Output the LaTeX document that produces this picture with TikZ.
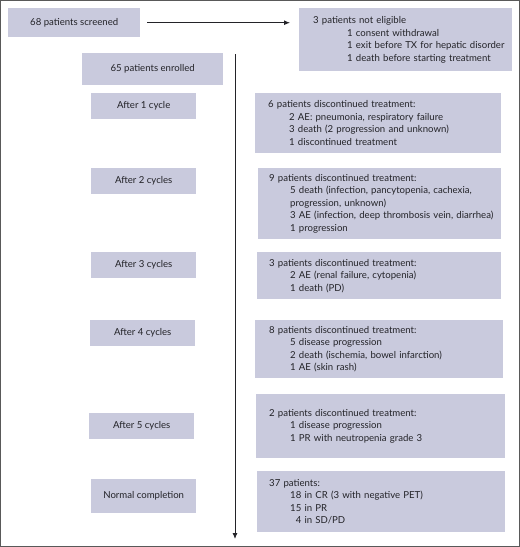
\documentclass[tikz,border=0pt]{standalone}
\usepackage{fontspec}
\setmainfont{Lato}
\usetikzlibrary{arrows.meta}
\definecolor{boxfill}{RGB}{201,202,221}
\definecolor{ink}{RGB}{35,35,40}
\tikzset{
  lbox/.style={fill=boxfill, draw=none, minimum height=26pt, minimum width=105pt, inner sep=0pt, text=ink, font=\fontsize{9.6}{12.5}\selectfont, anchor=north west},
  rbox/.style={fill=boxfill, draw=none, inner xsep=12pt, inner ysep=0pt, align=left, text=ink, font=\fontsize{9.6}{12.5}\selectfont, anchor=north west},
  flow/.style={draw=ink, line width=0.9pt, -{Latex[length=6pt,width=5pt]}}
}
\begin{document}
\begin{tikzpicture}[x=1pt,y=-1pt]
\useasboundingbox (0,0) rectangle (520,547);
\draw[gray!70!black, line width=1.2pt] (0.6,0.6) rectangle (519.4,546.4);

\node[lbox, minimum width=132pt, minimum height=29pt] (scr) at (8,8) {68 patients screened};
\node[rbox, minimum width=213pt, minimum height=63pt, text width=209pt, inner xsep=2pt] (ne) at (299,8)
  {\hspace*{12pt}3 patients not eligible\\
   \hspace*{46pt}1 consent withdrawal\\
   \hspace*{46pt}1 exit before TX for hepatic disorder\\
   \hspace*{46pt}1 death before starting treatment};
\draw[flow, shorten <=7pt, shorten >=9pt] (scr.east) -- (ne.west |- scr.east);

\node[lbox, minimum width=141pt, minimum height=32pt] (enr) at (82,53) {65 patients enrolled};

\node[lbox] (c1) at (91,93) {After 1 cycle};
\node[rbox, minimum width=246pt, minimum height=60pt, text width=230pt, inner xsep=8pt] (d1) at (255,93)
  {\hspace*{5pt}6 patients discontinued treatment:\\
   \hspace*{26pt}2 AE: pneumonia, respiratory failure\\
   \hspace*{26pt}3 death (2 progression and unknown)\\
   \hspace*{26pt}1 discontinued treatment};

\node[lbox] (c2) at (91,168) {After 2 cycles};
\node[rbox, minimum width=243pt, minimum height=71pt, text width=231pt, inner xsep=6pt] (d2) at (258,168)
  {\hspace*{5pt}9 patients discontinued treatment:\\
   \hspace*{26pt}5 death (infection, pancytopenia, cachexia,\\
   \hspace*{26pt}progression, unknown)\\
   \hspace*{26pt}3 AE (infection, deep thrombosis vein, diarrhea)\\
   \hspace*{26pt}1 progression};

\node[lbox] (c3) at (91,252) {After 3 cycles};
\node[rbox, minimum width=244pt, minimum height=47pt, text width=230pt, inner xsep=7pt] (d3) at (257,252)
  {\hspace*{5pt}3 patients discontinued treatment:\\
   \hspace*{26pt}2 AE (renal failure, cytopenia)\\
   \hspace*{26pt}1 death (PD)};

\node[lbox] (c4) at (90,320) {After 4 cycles};
\node[rbox, minimum width=248pt, minimum height=58pt, text width=232pt, inner xsep=8pt] (d4) at (255,320)
  {\hspace*{6pt}8 patients discontinued treatment:\\
   \hspace*{27pt}5 disease progression\\
   \hspace*{27pt}2 death (ischemia, bowel infarction)\\
   \hspace*{27pt}1 AE (skin rash)};

\node[lbox] (c5) at (89,413) {After 5 cycles};
\node[rbox, minimum width=249pt, minimum height=64pt, text width=233pt, inner xsep=8pt] (d5) at (256,394)
  {\hspace*{5pt}2 patients discontinued treatment:\\
   \hspace*{26pt}1 disease progression\\
   \hspace*{26pt}1 PR with neutropenia grade 3};

\node[lbox, minimum height=34pt] (nc) at (91,479) {Normal completion};
\node[rbox, minimum width=248pt, minimum height=61pt, text width=234pt, inner xsep=7pt] (fin) at (257,471)
  {\hspace*{5pt}37 patients:\\
   \hspace*{26pt}18 in CR (3 with negative PET)\\
   \hspace*{26pt}15 in PR\\
   \hspace*{26pt}\hphantom{1}4 in SD/PD};

\coordinate (top) at (235,54);
\coordinate (bot) at (235,539);
\draw[flow] (top) -- (bot);
\end{tikzpicture}
\end{document}
